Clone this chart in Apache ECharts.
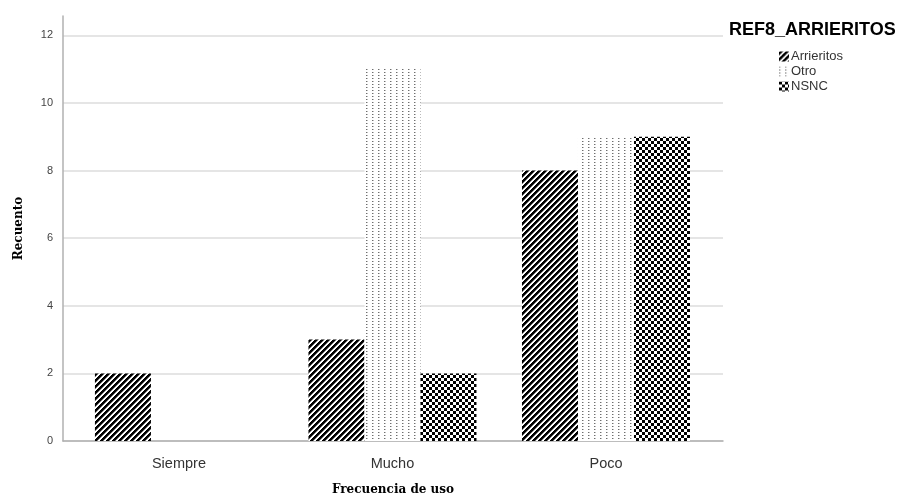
<!DOCTYPE html>
<html>
<head>
<meta charset="utf-8">
<script src="https://cdn.jsdelivr.net/npm/echarts@6/dist/echarts.min.js"></script>
<style>html,body{margin:0;padding:0;background:#fff}#c{width:905px;height:497px}</style>
</head>
<body>
<div id="c"></div>
<script>
const categories = ['Siempre', 'Mucho', 'Poco'];
const seriesNames = ['Arrieritos', 'Otro', 'NSNC'];
const arrieritos = [2, 3, 8];
const otro = [0, 11, 9];
const nsnc = [0, 2, 9];
const yTicks = [0, 2, 4, 6, 8, 10, 12];

function makePattern(w, h, fn) {
  const c = document.createElement('canvas');
  c.width = w; c.height = h;
  const ctx = c.getContext('2d');
  const img = ctx.createImageData(w, h);
  for (let y = 0; y < h; y++) for (let x = 0; x < w; x++) {
    const v = fn(x, y);
    const i = (y * w + x) * 4;
    img.data[i] = v; img.data[i + 1] = v; img.data[i + 2] = v; img.data[i + 3] = 255;
  }
  ctx.putImageData(img, 0, 0);
  return { image: c, repeat: 'repeat' };
}
const stripeRamp = [0, 0, 0, 120, 255, 255];
const patStripes = makePattern(6, 6, (x, y) => stripeRamp[(x + y) % 6]);
const patDots = makePattern(6, 3, (x, y) => (y === 0 && x === 0 ? 110 : (y === 0 && x === 1 ? 190 : 255)));
const patChecker = makePattern(6, 6, (x, y) => ((Math.floor(x / 3) + Math.floor(y / 3)) % 2 === 0 ? 0 : 255));
const patterns = [patStripes, patDots, patChecker];
const values = [arrieritos, otro, nsnc];

const chart = echarts.init(document.getElementById('c'), null, { renderer: 'canvas' });
chart.setOption({
  animation: false,
  backgroundColor: '#fff',
  title: {
    text: 'REF8_ARRIERITOS', left: 729, top: 21, padding: 0,
    textStyle: { fontFamily: 'Liberation Sans, Arial, sans-serif', fontSize: 18, fontWeight: 'bold', color: '#000' }
  },
  legend: {
    orient: 'vertical', left: 779, top: 50, padding: 0,
    itemWidth: 10, itemHeight: 10, itemGap: 2,
    icon: 'rect',
    data: seriesNames,
    textStyle: { fontFamily: 'Liberation Sans, Arial, sans-serif', fontSize: 13, lineHeight: 12.5, color: '#333', padding: [0, 0, 0, -3] }
  },
  grid: { left: 63, right: 182, top: 16, bottom: 56, containLabel: false, outerBoundsMode: 'none' },
  xAxis: {
    type: 'value', min: -0.543, max: 2.548,
    name: 'Frecuencia de uso', nameLocation: 'middle', nameGap: 43,
    nameTextStyle: { fontFamily: 'DejaVu Serif, serif', fontWeight: 'bold', fontSize: 12, color: '#000' },
    axisLine: { show: true, onZero: false, lineStyle: { color: '#b0b0b0', width: 1.5 } },
    axisTick: { show: false },
    splitLine: { show: false },
    axisLabel: {
      customValues: [0, 1, 2],
      formatter: v => categories[Math.round(v)],
      fontFamily: 'Liberation Sans, Arial, sans-serif', fontSize: 14.5, color: '#333', margin: 15
    }
  },
  yAxis: {
    type: 'value', min: 0, max: 12.57, interval: 2,
    name: 'Recuento', nameLocation: 'middle', nameGap: 38,
    nameTextStyle: { fontFamily: 'DejaVu Serif, serif', fontWeight: 'bold', fontSize: 12, color: '#000' },
    axisLine: { show: true, onZero: false, lineStyle: { color: '#b0b0b0', width: 1.5 } },
    axisTick: { show: false },
    axisLabel: {
      showMaxLabel: false,
      formatter: v => (yTicks.indexOf(v) >= 0 ? String(v) : ''),
      fontFamily: 'Liberation Sans, Arial, sans-serif', fontSize: 11, color: '#444', margin: 10
    },
    splitLine: {
      show: true,
      lineStyle: { color: ['#dcdcdc', '#dcdcdc', '#dcdcdc', '#dcdcdc', '#dcdcdc', '#dcdcdc', '#dcdcdc', 'rgba(0,0,0,0)'], width: 1.5 }
    }
  },
  series: seriesNames.map((name, si) => ({
    name: name,
    type: 'bar',
    barWidth: 56,
    barGap: '0%',
    itemStyle: { color: patterns[si] },
    emphasis: { disabled: true },
    data: values[si].map((v, i) => [i, v])
  }))
});
</script>
</body>
</html>
